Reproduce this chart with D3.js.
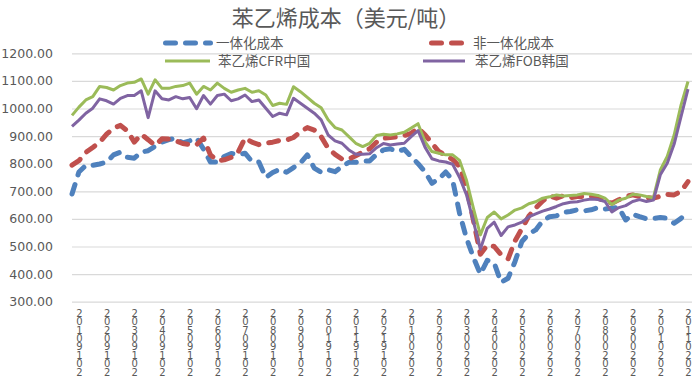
<!DOCTYPE html>
<html>
<head>
<meta charset="utf-8">
<script src="https://cdn.jsdelivr.net/npm/d3@7"></script>
<style>
  body { margin: 0; background: #fff; }
  svg { display: block; }
</style>
</head>
<body>
<svg id="chart" width="696" height="383"></svg>
<script>
"use strict";

// --- data ---------------------------------------------------------------
const chartTitle = "苯乙烯成本（美元/吨）";
const seriesNames = ["一体化成本", "非一体化成本", "苯乙烯CFR中国", "苯乙烯FOB韩国"];

// category labels (yyyymmdd), one every 4 weekly points
const tickLabels = [
  "20190102", "20190202", "20190302", "20190402", "20190502", "20190602",
  "20190702", "20190802", "20190902", "20191002", "20191102", "20191202",
  "20200102", "20200202", "20200302", "20200402", "20200502", "20200602",
  "20200702", "20200802", "20200902", "20201002", "20201102"
];
const yTicks = [300, 400, 500, 600, 700, 800, 900, 1000, 1100, 1200];

const integrated = [
  690, 770, 794, 794, 799, 806, 832, 842, 823, 820,
  842, 847, 863, 878, 887, 893, 875, 883, 893, 853,
  806, 806, 826, 837, 832, 838, 808, 806, 750, 768,
  780, 769, 786, 802, 832, 784, 769, 778, 771, 790,
  805, 805, 810, 810, 834, 850, 854, 844, 852, 826,
  800, 771, 729, 745, 770, 740, 620, 530, 460, 400,
  450, 440, 370, 385, 445, 518, 546, 560, 593, 608,
  611, 624, 627, 633, 629, 633, 641, 636, 639, 641,
  596, 617, 608, 600, 602, 605, 602, 584, 602, 627
];
const nonIntegrated = [
  795, 811, 841, 859, 878, 907, 929, 939, 919, 878,
  907, 887, 866, 890, 889, 883, 873, 869, 869, 893,
  832, 811, 814, 823, 842, 893, 878, 869, 875, 878,
  884, 886, 895, 916, 931, 922, 898, 856, 834, 817,
  817, 829, 842, 854, 878, 892, 895, 897, 902, 910,
  929, 905, 874, 844, 830, 815, 790, 715, 595, 472,
  505, 500, 470, 455, 520, 565, 610, 640, 665, 684,
  675, 684, 677, 681, 681, 682, 675, 665, 657, 669,
  681, 687, 681, 677, 675, 682, 689, 687, 700, 735
];
const cfrChina = [
  975, 1005, 1031, 1043, 1080, 1076, 1067, 1083, 1092, 1095,
  1107, 1052, 1104, 1073, 1073, 1080, 1083, 1092, 1052, 1080,
  1067, 1092, 1073, 1059, 1067, 1073, 1059, 1064, 1049, 1011,
  1019, 1015, 1079, 1061, 1040, 1019, 1003, 959, 931, 922,
  898, 874, 862, 874, 902, 907, 904, 908, 914, 929,
  945, 880, 844, 838, 832, 832, 812, 740, 638, 542,
  605, 625, 600, 614, 632, 640, 655, 662, 675, 680,
  687, 683, 685, 687, 692, 689, 685, 675, 652, 668,
  675, 689, 687, 681, 677, 777, 826, 904, 1013, 1098
];
const fobKorea = [
  935, 958, 983, 1001, 1035, 1028, 1016, 1037, 1047, 1047,
  1064, 967, 1064, 1035, 1031, 1043, 1035, 1040, 999, 1047,
  1016, 1047, 1052, 1028, 1035, 1049, 1025, 1031, 1001, 971,
  983, 977, 1037, 1019, 1001, 983, 959, 904, 883, 874,
  850, 834, 834, 836, 858, 873, 868, 871, 874, 898,
  920, 860, 818, 810, 806, 798, 750, 687, 590, 490,
  566, 588, 540, 571, 578, 588, 607, 618, 628, 636,
  645, 655, 660, 662, 668, 672, 670, 663, 625, 641,
  648, 663, 670, 663, 668, 760, 802, 871, 971, 1070
];

// --- chart --------------------------------------------------------------
const svg = d3.select("#chart");
const textColor = "#595959";
const gridColor = "#d9d9d9";
const colors = ["#4f81bd", "#c0504d", "#9bbb59", "#8064a2"];
const allSeries = [integrated, nonIntegrated, cfrChina, fobKorea];

const plot = {left: 72, right: 692, top: 53.3, bottom: 301.7};

// data runs slightly past the last label, so the index range ends at 688
const xScale = d3.scaleLinear()
    .domain([0, integrated.length - 1])
    .range([plot.left, 688]);

const yScale = d3.scaleLinear()
    .domain([300, 1200])
    .range([plot.bottom, plot.top]);

// grid + y labels
const yAxis = svg.append("g")
    .attr("transform", "translate(" + plot.left + ",0)")
    .call(d3.axisLeft(yScale)
        .tickValues(yTicks)
        .tickSize(-(plot.right - plot.left))
        .tickPadding(19)
        .tickFormat(d3.format(".2f")));
yAxis.select(".domain").remove();
yAxis.selectAll(".tick line").attr("stroke", gridColor).attr("stroke-width", 1.2);
yAxis.selectAll(".tick text")
    .attr("fill", textColor)
    .style("font-family", "'DejaVu Sans', sans-serif")
    .style("font-size", "12.5px");

// x labels, characters stacked vertically (the reference stacks them bottom-up)
const tickIdx = tickLabels.map((d, i) => 1 + 4 * i);
const xAxis = svg.append("g")
    .attr("transform", "translate(0," + plot.bottom + ")")
    .call(d3.axisBottom(xScale)
        .tickValues(tickIdx)
        .tickSize(0)
        .tickFormat((d, i) => tickLabels[i].split("").reverse().join("")));
xAxis.select(".domain").remove();
xAxis.selectAll(".tick text")
    .attr("dy", null)
    .attr("y", 6)
    .attr("text-anchor", "start")
    .attr("fill", textColor)
    .style("writing-mode", "vertical-rl")
    .style("text-orientation", "upright")
    .style("letter-spacing", "-2.6px")
    .style("font-family", "'DejaVu Sans', sans-serif")
    .style("font-size", "10px");

// lines
const line = d3.line()
    .x((d, i) => xScale(i))
    .y(d => yScale(d));

allSeries.forEach((s, k) => {
    const dashed = k < 2;
    svg.append("path")
        .datum(s)
        .attr("fill", "none")
        .attr("stroke", colors[k])
        .attr("stroke-width", dashed ? 5 : 3)
        .attr("stroke-linejoin", "round")
        .attr("stroke-linecap", dashed ? "round" : "butt")
        .attr("stroke-dasharray", dashed ? "10 10" : null)
        .attr("d", line);
});

// title
svg.append("text")
    .attr("x", 346)
    .attr("y", 26)
    .attr("text-anchor", "middle")
    .attr("fill", textColor)
    .style("font-family", "'Noto Sans CJK SC', sans-serif")
    .style("font-size", "22px")
    .text(chartTitle);

// legend
const legendPos = [
    {x0: 163, x1: 213, tx: 216, y: 43},
    {x0: 429, x1: 471, tx: 473, y: 43},
    {x0: 165, x1: 210, tx: 218, y: 61},
    {x0: 423, x1: 465, tx: 475, y: 61}
];
const legend = svg.append("g");
seriesNames.forEach((name, k) => {
    const p = legendPos[k];
    const dashed = k < 2;
    legend.append("line")
        .attr("x1", dashed ? p.x0 + 2.5 : p.x0)
        .attr("x2", dashed ? p.x1 - 2.5 : p.x1)
        .attr("y1", p.y).attr("y2", p.y)
        .attr("stroke", colors[k])
        .attr("stroke-width", dashed ? 5 : 3)
        .attr("stroke-linecap", dashed ? "round" : "butt")
        .attr("stroke-dasharray", dashed ? "10 10" : null);
    legend.append("text")
        .attr("x", p.tx)
        .attr("y", p.y)
        .attr("dy", "0.36em")
        .attr("fill", textColor)
        .style("font-family", "'Noto Sans CJK SC', sans-serif")
        .style("font-size", "13.5px")
        .text(name);
});
</script>
</body>
</html>
